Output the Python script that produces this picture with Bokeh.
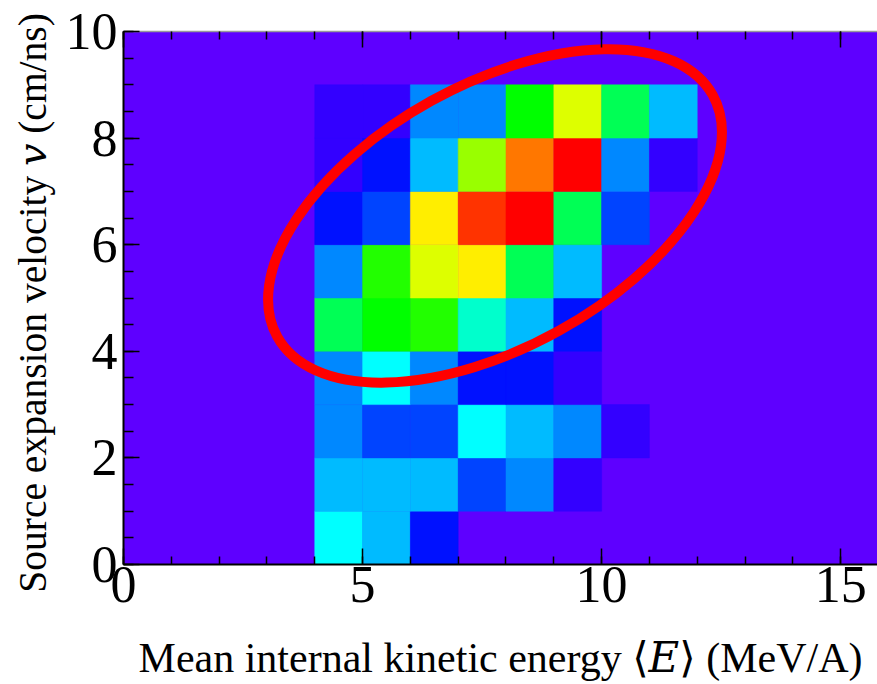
import math

from bokeh.plotting import figure
from bokeh.models import (ColumnDataSource, LinearColorMapper, LinearAxis,
                          Range1d, FixedTicker)
from bokeh.transform import transform
from bokeh.embed import file_html
from bokeh.resources import INLINE

# ---- data -------------------------------------------------------------
# bin lower edges
energy_bins = [4, 5, 6, 7, 8, 9, 10, 11]          # <E> (MeV/A)
velocity_bins = [0, 1, 2, 3, 4, 5, 6, 7, 8]        # v (cm/ns)

# relative population per bin (arbitrary units), one row per velocity bin,
# one column per energy bin; 0 = empty bin
population = [
    [6, 5, 2, 0, 0, 0, 0, 0],     # v 0-1
    [5, 5, 5, 3, 4, 1, 0, 0],     # v 1-2
    [4, 3, 3, 6, 5, 4, 1, 0],     # v 2-3
    [4, 6, 4, 2, 2, 1, 0, 0],     # v 3-4
    [8, 9, 10, 7, 5, 2, 0, 0],    # v 4-5
    [4, 10, 12, 13, 8, 5, 0, 0],  # v 5-6
    [2, 3, 13, 15, 16, 8, 3, 0],  # v 6-7
    [1, 2, 5, 11, 14, 16, 4, 1],  # v 7-8
    [1, 1, 4, 4, 9, 12, 8, 5],    # v 8-9
]

x_ticks = [0, 5, 10, 15]
y_ticks = [0, 2, 4, 6, 8, 10]

x_title = "Mean internal kinetic energy \u27e8\U0001D438\u27e9 (MeV/A)"
y_title = "Source expansion velocity \U0001D463 (cm/ns)"

# rainbow palette, low -> high
PALETTE = ["#3300FF", "#0011FF", "#0044FF", "#0088FF", "#00BBFF", "#00FFFF",
           "#00FFCC", "#00FF55", "#00FF00", "#22FF00", "#99FF00", "#DDFF00",
           "#FFEE00", "#FF7700", "#FF3300", "#FF0000"]
EMPTY_COLOR = "#5E00FF"

# highlighted region (centre in data units, axes in pixels, tilt in degrees)
ring_center = (7.77, 6.54)
ring_axes_px = (498, 263)
ring_tilt_deg = 29.0

# ---- build cell table -------------------------------------------------
xs, ys, vals = [], [], []
for j, v0 in enumerate(velocity_bins):
    for i, e0 in enumerate(energy_bins):
        val = population[j][i]
        if val > 0:
            xs.append(e0 + 0.5)
            ys.append(v0 + 0.5)
            vals.append(val)
src = ColumnDataSource(dict(x=xs, y=ys, val=vals))

mapper = LinearColorMapper(palette=PALETTE, low=0.5, high=len(PALETTE) + 0.5)

FONT = "Liberation Serif"
TITLE_FONT = "'Liberation Serif', 'DejaVu Serif', serif"

p = figure(width=877, height=684, output_backend="svg", toolbar_location=None,
           x_range=Range1d(0, 15.77), y_range=Range1d(0, 10),
           min_border_left=123, min_border_right=0,
           min_border_top=31, min_border_bottom=120)
p.background_fill_color = EMPTY_COLOR
p.border_fill_color = "white"
p.outline_line_color = None
p.xgrid.visible = False
p.ygrid.visible = False

p.rect(x="x", y="y", width=1, height=1, source=src,
       fill_color=transform("val", mapper),
       line_color=transform("val", mapper), line_width=0.5)

p.ellipse(x=ring_center[0], y=ring_center[1],
          width=ring_axes_px[0], height=ring_axes_px[1],
          width_units="screen", height_units="screen",
          angle=math.radians(ring_tilt_deg),
          fill_color=None, line_color="#FF0000", line_width=10)

x_ticker = FixedTicker(ticks=x_ticks, minor_ticks=list(range(0, 16)))
y_ticker = FixedTicker(ticks=y_ticks, minor_ticks=[k * 0.5 for k in range(21)])


def style_axis(ax, major_in, minor_in):
    ax.major_tick_in = major_in
    ax.major_tick_out = 0
    ax.minor_tick_in = minor_in
    ax.minor_tick_out = 0
    ax.major_tick_line_color = "black"
    ax.minor_tick_line_color = "black"
    ax.major_tick_line_width = 1.5
    ax.minor_tick_line_width = 1.5
    ax.axis_line_color = "black"
    ax.axis_line_width = 2
    ax.major_label_text_font = FONT
    ax.major_label_text_font_size = "52px"
    ax.major_label_text_color = "black"
    ax.axis_label_text_font = TITLE_FONT
    ax.axis_label_text_font_style = "normal"
    ax.axis_label_text_color = "black"


xa = p.xaxis[0]
xa.ticker = x_ticker
style_axis(xa, 16, 8)
xa.major_label_standoff = 2
xa.axis_label = x_title
xa.axis_label_text_font_size = "42px"
xa.axis_label_standoff = 30

ya = p.yaxis[0]
ya.ticker = y_ticker
style_axis(ya, 16, 10)
ya.major_label_standoff = 6
ya.major_label_orientation = "horizontal"
# a trailing no-break space nudges the centred title toward its start
ya.axis_label = y_title + "\u00a0"
ya.axis_label_text_font_size = "39.5px"
ya.axis_label_standoff = 8

# mirrored ticks along the top edge
top = LinearAxis(ticker=x_ticker)
style_axis(top, 16, 8)
top.axis_line_color = "#9A9A9A"
top.axis_line_width = 1.5
top.major_label_text_font_size = "1px"
top.major_label_text_color = None
top.major_label_standoff = 0
p.add_layout(top, "above")

open("out.html", "w").write(file_html(p, INLINE))
